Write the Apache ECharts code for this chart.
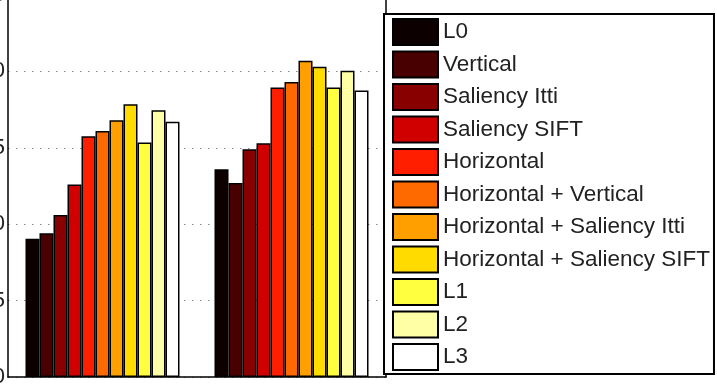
<!DOCTYPE html>
<html>
<head>
<meta charset="utf-8">
<script src="https://cdn.jsdelivr.net/npm/echarts@6/dist/echarts.min.js"></script>
<style>
  html, body { margin: 0; padding: 0; background: #fff; }
  #chart { width: 717px; height: 388px; }
</style>
</head>
<body>
<div id="chart"></div>
<script>
// two groups of bars
const categories = ['1', '2']
const seriesNames = [
  'L0', 'Vertical', 'Saliency Itti', 'Saliency SIFT', 'Horizontal',
  'Horizontal + Vertical', 'Horizontal + Saliency Itti', 'Horizontal + Saliency SIFT',
  'L1', 'L2', 'L3'
]
const group1Values = [9.05, 9.4, 10.6, 12.6, 15.75, 16.1, 16.8, 17.85, 15.35, 17.45, 16.7]
const group2Values = [13.6, 12.7, 14.9, 15.3, 18.95, 19.3, 20.7, 20.3, 18.95, 20.05, 18.75]
const yTicks = [0, 5, 10, 15, 20, 25]

// hot-like colormap
const colors = [
  '#0d0000', '#480000', '#880000', '#d00000', '#ff1e00', '#ff6a00',
  '#ff9f00', '#ffdb00', '#ffff40', '#ffffa6', '#ffffff'
]

const chart = echarts.init(document.getElementById('chart'))

const series = seriesNames.map((name, i) => ({
  name: name,
  type: 'bar',
  barWidth: 14,
  barGap: '0%',
  data: [group1Values[i], group2Values[i]],
  itemStyle: {
    color: colors[i],
    borderColor: '#000',
    borderWidth: 1.5
  }
}))

const option = {
  animation: false,
  textStyle: { fontFamily: 'Liberation Sans, Arial, sans-serif' },
  grid: {
    left: 8,
    right: 331,
    top: -5,
    bottom: 11,
    containLabel: false,
    outerBoundsMode: 'none'
  },
  xAxis: {
    type: 'category',
    data: categories,
    axisLine: { show: true, lineStyle: { color: '#000', width: 1.5 } },
    axisTick: { show: false },
    axisLabel: { show: false },
    splitLine: { show: false }
  },
  yAxis: [
    {
      type: 'value',
      min: yTicks[0],
      max: yTicks[yTicks.length - 1],
      interval: 5,
      axisLine: { show: true, lineStyle: { color: '#000', width: 1.5 } },
      axisTick: { show: false },
      axisLabel: { margin: 3, fontSize: 22, color: '#222' },
      splitLine: {
        show: true,
        lineStyle: { color: '#888', type: [1.5, 6.5], width: 1 }
      }
    },
    {
      type: 'value',
      position: 'right',
      min: yTicks[0],
      max: yTicks[yTicks.length - 1],
      interval: 5,
      axisLine: { show: true, lineStyle: { color: '#000', width: 1.5 } },
      axisTick: { show: false },
      axisLabel: { show: false },
      splitLine: { show: false }
    }
  ],
  legend: {
    data: seriesNames,
    orient: 'vertical',
    left: 384,
    top: 14,
    padding: [4, 4, 3, 8],
    itemGap: 4.5,
    itemWidth: 45,
    itemHeight: 26,
    icon: 'rect',
    backgroundColor: '#fff',
    borderColor: '#000',
    borderWidth: 2,
    itemStyle: { borderColor: '#000', borderWidth: 2 },
    textStyle: {
      fontSize: 22.5,
      lineHeight: 26,
      color: '#222',
      fontFamily: 'Liberation Sans, Arial, sans-serif'
    }
  },
  series: series
}

chart.setOption(option)
</script>
</body>
</html>
